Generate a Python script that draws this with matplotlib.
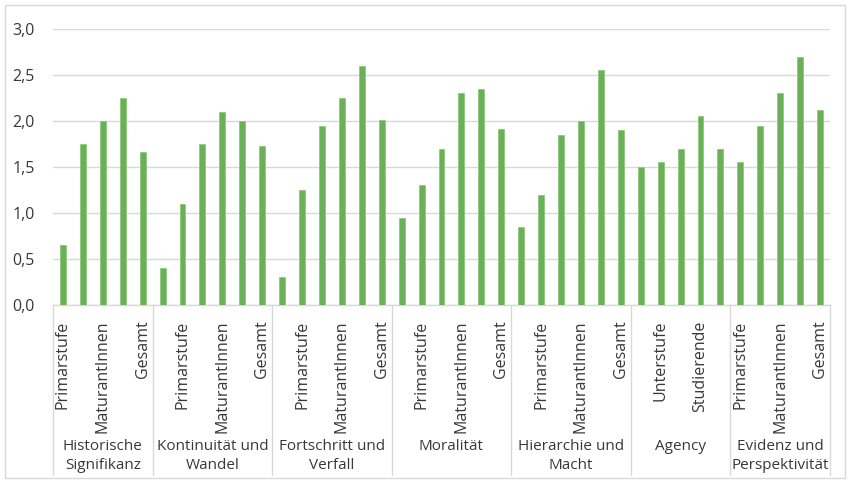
import numpy as np
import matplotlib.pyplot as plt
from matplotlib.ticker import FuncFormatter
import matplotlib.transforms as mtransforms

plt.rcParams['font.family'] = ['Open Sans', 'DejaVu Sans']

# Groups (top-level categories) and the tick labels that are shown under the bars
groups = ["Historische\nSignifikanz", "Kontinuität und\nWandel", "Fortschritt und\nVerfall",
          "Moralität", "Hierarchie und\nMacht", "Agency", "Evidenz und\nPerspektivität"]

sub_labels = [
    ["Primarstufe", "", "MaturantInnen", "", "Gesamt"],
    ["", "Primarstufe", "", "MaturantInnen", "", "Gesamt"],
    ["", "Primarstufe", "", "MaturantInnen", "", "Gesamt"],
    ["", "Primarstufe", "", "MaturantInnen", "", "Gesamt"],
    ["", "Primarstufe", "", "MaturantInnen", "", "Gesamt"],
    ["", "Unterstufe", "", "Studierende", ""],
    ["Primarstufe", "", "MaturantInnen", "", "Gesamt"],
]

values = [
    [0.65, 1.75, 2.00, 2.25, 1.66],
    [0.40, 1.10, 1.75, 2.10, 2.00, 1.73],
    [0.30, 1.25, 1.95, 2.25, 2.60, 2.01],
    [0.95, 1.30, 1.70, 2.30, 2.35, 1.91],
    [0.85, 1.20, 1.85, 2.00, 2.55, 1.90],
    [1.50, 1.55, 1.70, 2.05, 1.70],
    [1.55, 1.95, 2.30, 2.70, 2.12],
]

text_color = '#383838'
bar_color = '#6AB056'
grid_color = '#D9D9D9'

all_vals = [v for g in values for v in g]
all_labels = [l for g in sub_labels for l in g]
x = np.arange(len(all_vals))

fig = plt.figure(figsize=(8.49, 4.82), dpi=100)
W, H = 849, 482
ax = fig.add_axes([53 / W, 1 - 305 / H, (830 - 53) / W, (305 - 29) / H])

ax.bar(x, all_vals, width=0.3, color=bar_color, edgecolor='#8CC97A', linewidth=0.6, zorder=3)

ax.set_xlim(-0.5, len(all_vals) - 0.5)
ax.set_ylim(0, 3.0)
ax.set_yticks(np.arange(0, 3.01, 0.5))
ax.yaxis.set_major_formatter(FuncFormatter(lambda v, p: f"{v:.1f}".replace(".", ",")))
ax.grid(axis='y', color=grid_color, linewidth=1, zorder=0)
for s in ['top', 'right', 'left']:
    ax.spines[s].set_visible(False)
ax.spines['bottom'].set_color(grid_color)
ax.spines['bottom'].set_linewidth(1)
ax.tick_params(axis='y', length=0, pad=13, labelsize=11.5, labelcolor=text_color)

ax.set_xticks(x)
ax.set_xticklabels(all_labels, rotation=90, fontsize=11.5, color=text_color, va='top', ha='center')
ax.tick_params(axis='x', length=0, pad=11)

# group separators and group labels
trans = mtransforms.blended_transform_factory(ax.transData, ax.transAxes)
bottom_y = -(475 - 305) / (305 - 29)
start = 0
bounds = [-0.5]
for g, vals in zip(groups, values):
    n = len(vals)
    center = start + (n - 1) / 2
    ax.text(center, -(439 - 305) / (305 - 29), g, transform=trans, ha='center', va='top',
            fontsize=11, color=text_color, linespacing=1.4)
    start += n
    bounds.append(start - 0.5)
for b in bounds:
    ax.plot([b, b], [0, bottom_y], transform=trans, color=grid_color, linewidth=1, clip_on=False)

# outer chart border
fig.patches.append(plt.Rectangle((5 / W, 4 / H), 840 / W, 473 / H, transform=fig.transFigure,
                                 fill=False, edgecolor=grid_color, linewidth=1))

fig.savefig('out.png', dpi=100)
